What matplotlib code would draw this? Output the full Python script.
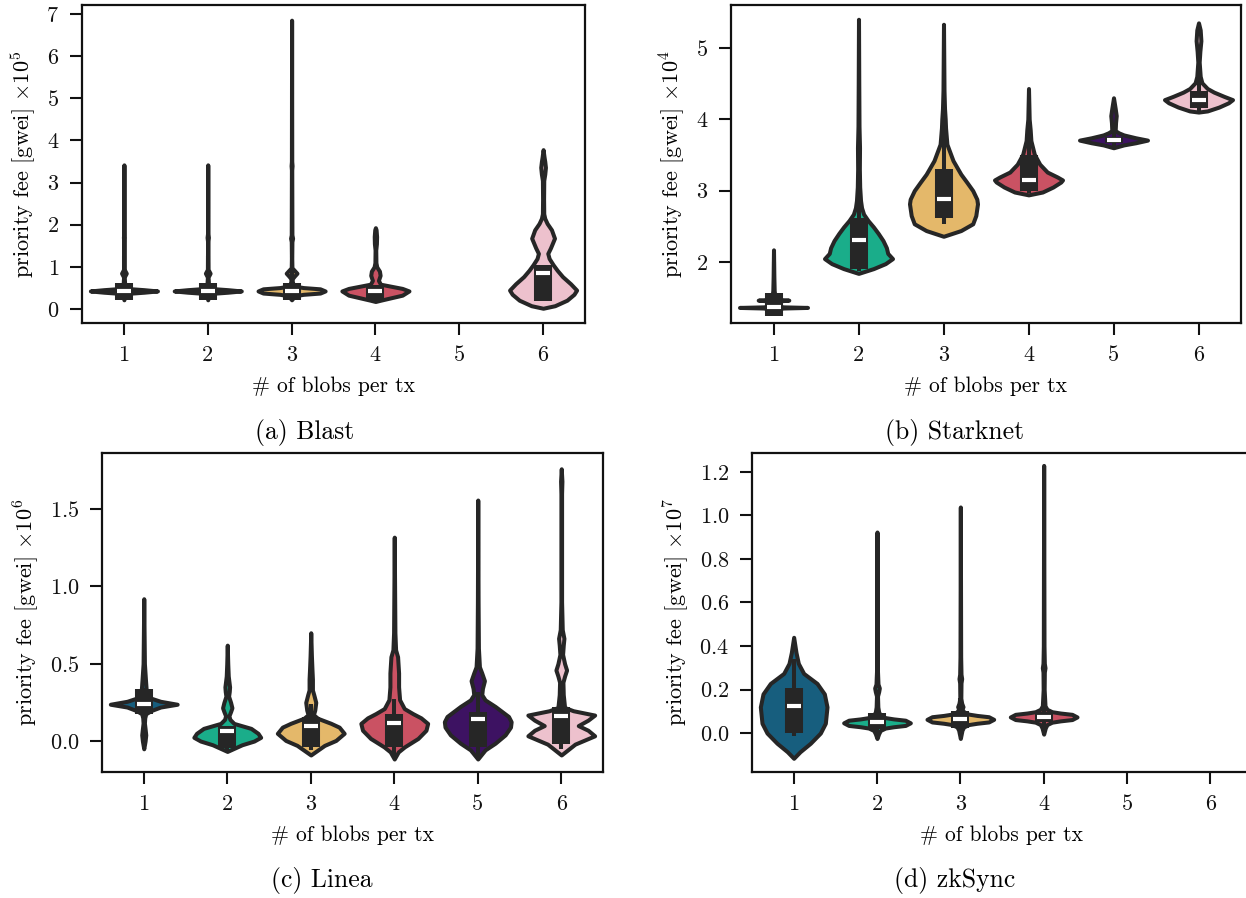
import numpy as np
import matplotlib
matplotlib.use('Agg')
import matplotlib.pyplot as plt

plt.rcParams['font.family'] = 'cmr10'
plt.rcParams['mathtext.fontset'] = 'cm'
plt.rcParams['axes.formatter.use_mathtext'] = True

DARK = '#262626'
COLORS = ['#175e7e', '#1aad8a', '#e4b86a', '#ca5263', '#3d1262', '#edc1cd']
CATEGORIES = ['1', '2', '3', '4', '5', '6']

# ---- (a) Blast, priority fee x 1e5 ----
BLAST_Y = [
    [0.22, 0.30, 0.35, 0.38, 0.40, 0.43, 0.46, 0.48, 0.51, 0.56, 0.62, 0.76, 0.82, 0.85, 0.88, 0.94, 1.6, 1.7, 1.8, 3.42],
    [0.22, 0.30, 0.35, 0.38, 0.40, 0.43, 0.46, 0.48, 0.51, 0.56, 0.62, 0.76, 0.82, 0.85, 0.88, 0.94, 1.6, 1.7, 1.8, 3.42],
    [0.22, 0.26, 0.32, 0.35, 0.38, 0.43, 0.48, 0.51, 0.54, 0.60, 0.66, 0.72, 0.78, 0.85, 0.92, 0.98, 1.2, 1.6, 1.68, 1.76, 3.3, 3.4, 3.5, 6.85],
    [0.18, 0.21, 0.33, 0.43, 0.49, 0.59, 0.68, 0.8, 0.9, 1.0, 1.1, 1.4, 1.55, 1.72, 1.88, 1.93],
    [],
    [0.02, 0.08, 0.21, 0.35, 0.45, 0.6, 0.77, 0.92, 1.05, 1.2, 1.32, 1.45, 1.68, 1.88, 2.03, 2.15, 2.26, 2.6, 3.05, 3.2, 3.36, 3.5, 3.6, 3.78],
]
BLAST_W = [
    [0, 0.02, 0.06, 0.25, 0.6, 1.0, 0.6, 0.25, 0.06, 0.03, 0.02, 0.01, 0.05, 0.07, 0.05, 0.01, 0.005, 0.015, 0.005, 0],
    [0, 0.02, 0.06, 0.25, 0.6, 1.0, 0.6, 0.25, 0.06, 0.03, 0.02, 0.01, 0.05, 0.07, 0.05, 0.01, 0.005, 0.02, 0.005, 0],
    [0, 0.04, 0.12, 0.35, 0.85, 1.0, 0.85, 0.35, 0.12, 0.04, 0.02, 0.02, 0.08, 0.16, 0.08, 0.01, 0.005, 0.01, 0.03, 0.01, 0.005, 0.015, 0.005, 0],
    [0, 0.15, 0.8, 1.0, 0.8, 0.15, 0.09, 0.14, 0.12, 0.04, 0.015, 0.01, 0.03, 0.035, 0.02, 0],
    [],
    [0, 0.35, 0.71, 0.92, 1.0, 0.82, 0.58, 0.42, 0.3, 0.18, 0.14, 0.22, 0.34, 0.25, 0.12, 0.05, 0.02, 0.015, 0.02, 0.05, 0.07, 0.05, 0.03, 0],
]
# q1, median, q3, lower whisker, upper whisker
BLAST_BOX = [
    (0.21, 0.43, 0.62, 0.21, 1.25),
    (0.21, 0.43, 0.62, 0.21, 1.25),
    (0.21, 0.43, 0.62, 0.21, 1.25),
    (0.20, 0.43, 0.57, 0.20, 0.57),
    None,
    (0.20, 0.85, 1.04, 0.20, 1.04),
]

# ---- (b) Starknet, priority fee x 1e4 ----
STARKNET_Y = [
    [1.30, 1.32, 1.343, 1.355, 1.363, 1.371, 1.383, 1.40, 1.43, 1.445, 1.458, 1.465, 1.472, 1.485, 1.52, 1.6, 1.8, 2.17],
    [1.84, 1.907, 1.977, 2.047, 2.12, 2.2, 2.3, 2.4, 2.49, 2.58, 2.67, 2.76, 2.86, 3.05, 3.3, 3.6, 3.9, 4.5, 5.40],
    [2.36, 2.44, 2.535, 2.65, 2.814, 2.88, 3.0, 3.12, 3.23, 3.42, 3.65, 3.88, 4.0, 4.15, 4.4, 5.33],
    [2.94, 2.98, 3.05, 3.12, 3.149, 3.19, 3.26, 3.37, 3.51, 3.70, 3.85, 4.0, 4.43],
    [3.60, 3.64, 3.67, 3.707, 3.74, 3.78, 3.81, 3.84, 3.95, 4.05, 4.15, 4.30],
    [4.10, 4.116, 4.17, 4.23, 4.274, 4.32, 4.38, 4.43, 4.51, 4.60, 4.8, 4.95, 5.1, 5.25, 5.35],
]
STARKNET_W = [
    [0, 0.04, 0.1, 0.3, 1.0, 0.3, 0.1, 0.05, 0.05, 0.15, 0.25, 0.45, 0.25, 0.1, 0.04, 0.02, 0.01, 0],
    [0, 0.44, 0.79, 1.0, 0.86, 0.82, 0.72, 0.58, 0.44, 0.28, 0.15, 0.09, 0.06, 0.035, 0.025, 0.03, 0.015, 0.008, 0],
    [0, 0.51, 0.86, 0.95, 1.0, 0.98, 0.86, 0.68, 0.51, 0.28, 0.10, 0.06, 0.05, 0.03, 0.015, 0],
    [0, 0.41, 0.72, 0.95, 1.0, 0.85, 0.55, 0.33, 0.17, 0.07, 0.05, 0.02, 0],
    [0, 0.3, 0.65, 1.0, 0.65, 0.3, 0.15, 0.05, 0.06, 0.08, 0.05, 0],
    [0, 0.26, 0.6, 0.88, 1.0, 0.75, 0.45, 0.26, 0.1, 0.05, 0.02, 0.04, 0.07, 0.05, 0],
]
STARKNET_BOX = [
    (1.25, 1.372, 1.572, 1.25, 2.0),
    (1.907, 2.312, 2.619, 1.87, 3.7),
    (2.62, 2.88, 3.30, 2.53, 3.9),
    (3.00, 3.149, 3.50, 2.96, 3.9),
    (3.66, 3.707, 3.75, 3.63, 3.82),
    (4.153, 4.274, 4.395, 4.12, 4.6),
]

# ---- (c) Linea, priority fee x 1e6 ----
LINEA_Y = [
    [-0.05, 0.0, 0.04, 0.08, 0.116, 0.15, 0.176, 0.197, 0.22, 0.238, 0.257, 0.277, 0.30, 0.34, 0.4, 0.5, 0.7, 0.92],
    [-0.067, -0.024, 0.0, 0.024, 0.05, 0.082, 0.114, 0.14, 0.163, 0.19, 0.215, 0.25, 0.29, 0.32, 0.35, 0.42, 0.5, 0.62],
    [-0.09, -0.028, 0.004, 0.05, 0.09, 0.115, 0.147, 0.17, 0.2, 0.25, 0.3, 0.33, 0.4, 0.47, 0.55, 0.70],
    [-0.116, -0.07, -0.037, 0.017, 0.07, 0.114, 0.15, 0.177, 0.21, 0.267, 0.35, 0.44, 0.545, 0.59, 0.7, 1.0, 1.318],
    [-0.116, -0.057, -0.014, 0.04, 0.09, 0.125, 0.159, 0.224, 0.266, 0.30, 0.34, 0.39, 0.44, 0.48, 0.6, 0.9, 1.558],
    [-0.09, -0.02, 0.034, 0.07, 0.10, 0.135, 0.168, 0.196, 0.217, 0.3, 0.38, 0.42, 0.459, 0.5, 0.56, 0.62, 0.664, 0.72, 0.9, 1.6, 1.68, 1.76],
]
LINEA_W = [
    [0, 0.04, 0.06, 0.04, 0.02, 0.03, 0.06, 0.22, 0.5, 1.0, 0.5, 0.22, 0.1, 0.07, 0.05, 0.02, 0.01, 0],
    [0, 0.44, 0.8, 1.0, 0.92, 0.71, 0.2, 0.08, 0.05, 0.1, 0.14, 0.1, 0.04, 0.06, 0.07, 0.03, 0.015, 0],
    [0, 0.41, 0.75, 1.0, 0.85, 0.6, 0.21, 0.08, 0.12, 0.15, 0.09, 0.05, 0.05, 0.035, 0.02, 0],
    [0, 0.12, 0.31, 0.71, 0.95, 1.0, 0.8, 0.56, 0.3, 0.16, 0.13, 0.13, 0.1, 0.04, 0.02, 0.01, 0],
    [0, 0.22, 0.52, 0.82, 0.98, 1.0, 0.92, 0.52, 0.22, 0.12, 0.14, 0.2, 0.12, 0.05, 0.02, 0.01, 0],
    [0, 0.41, 1.0, 0.8, 0.51, 0.8, 1.0, 0.36, 0.1, 0.06, 0.05, 0.1, 0.16, 0.1, 0.04, 0.06, 0.08, 0.03, 0.01, 0.01, 0.02, 0],
]
LINEA_BOX = [
    (0.176, 0.238, 0.335, 0.12, 0.34),
    (-0.045, 0.067, 0.10, -0.06, 0.10),
    (-0.037, 0.10, 0.157, -0.06, 0.24),
    (-0.037, 0.114, 0.177, -0.10, 0.27),
    (-0.037, 0.14, 0.19, -0.10, 0.32),
    (-0.02, 0.16, 0.22, -0.05, 0.37),
]

# ---- (d) zkSync, priority fee x 1e7 ----
ZKSYNC_Y = [
    [-0.116, -0.086, -0.047, 0.0, 0.045, 0.12, 0.18, 0.228, 0.274, 0.32, 0.37, 0.44],
    [-0.025, -0.003, 0.012, 0.023, 0.029, 0.035, 0.047, 0.059, 0.065, 0.071, 0.082, 0.097, 0.12, 0.17, 0.19, 0.207, 0.225, 0.3, 0.924],
    [-0.025, 0.013, 0.028, 0.039, 0.045, 0.051, 0.063, 0.075, 0.081, 0.087, 0.098, 0.11, 0.121, 0.137, 0.16, 0.23, 0.25, 0.27, 0.35, 1.039],
    [-0.005, 0.024, 0.039, 0.050, 0.056, 0.062, 0.074, 0.086, 0.092, 0.098, 0.109, 0.125, 0.2, 0.28, 0.30, 0.32, 0.4, 1.23],
    [],
    [],
]
ZKSYNC_W = [
    [0, 0.19, 0.5, 0.8, 0.95, 1.0, 0.92, 0.70, 0.30, 0.14, 0.07, 0],
    [0, 0.05, 0.1, 0.25, 0.5, 0.85, 1.0, 0.85, 0.5, 0.25, 0.1, 0.05, 0.025, 0.015, 0.05, 0.07, 0.03, 0.01, 0],
    [0, 0.05, 0.1, 0.25, 0.5, 0.85, 1.0, 0.85, 0.5, 0.25, 0.1, 0.05, 0.08, 0.04, 0.015, 0.02, 0.04, 0.02, 0.01, 0],
    [0, 0.05, 0.1, 0.25, 0.5, 0.85, 1.0, 0.85, 0.5, 0.25, 0.1, 0.04, 0.015, 0.02, 0.04, 0.02, 0.01, 0],
    [],
    [],
]
ZKSYNC_BOX = [
    (0.0, 0.123, 0.206, -0.012, 0.34),
    (0.018, 0.052, 0.092, -0.015, 0.15),
    (0.021, 0.064, 0.103, -0.01, 0.16),
    (0.052, 0.075, 0.098, 0.02, 0.13),
    None,
    None,
]

W, H = 1246, 898
fig = plt.figure(figsize=(W / 100, H / 100), dpi=100)


def draw_panel(rect, ys, ws, boxes, exp, ylim, yticks, caption, cap_xy):
    ax = fig.add_axes([rect[0] / W, 1 - rect[1] / H, rect[2] / W, rect[3] / H])
    for i in range(len(CATEGORIES)):
        if not ys[i]:
            continue
        y = np.array(ys[i])
        half = np.array(ws[i]) * 0.4
        ax.fill_betweenx(y, i - half, i + half, facecolor=COLORS[i], edgecolor=DARK,
                         linewidth=2.9, joinstyle='round', zorder=2)
        q1, med, q3, lo, hi = boxes[i]
        ax.plot([i, i], [lo, hi], color=DARK, lw=2.9, solid_capstyle='butt', zorder=3)
        ax.plot([i, i], [q1, q3], color=DARK, lw=13, solid_capstyle='butt', zorder=3)
        ax.plot([i], [med], marker='_', color='white', ms=10, mew=3, zorder=4)

    ax.set_xlim(-0.5, 5.5)
    ax.set_ylim(*ylim)
    ax.set_xticks(range(len(CATEGORIES)))
    ax.set_xticklabels(CATEGORIES)
    ax.set_yticks(yticks)
    for s in ax.spines.values():
        s.set_linewidth(1.6)
        s.set_color('#111111')
    ax.tick_params(length=8.5, width=1.5, pad=8, labelsize=16, colors='#111111')
    ax.set_xlabel('# of blobs per tx', fontsize=15.5, labelpad=8)
    ax.set_ylabel('priority fee [gwei] $\\times10^{%d}$' % exp, fontsize=16, labelpad=6)
    fig.text(cap_xy[0] / W, 1 - cap_xy[1] / H, caption, ha='center', va='center', fontsize=18.5)
    return ax


draw_panel((82, 323, 503, 318), BLAST_Y, BLAST_W, BLAST_BOX, 5,
           (-0.33, 7.21), range(0, 8), '(a) Blast', (305, 432))
draw_panel((731, 323, 510, 318), STARKNET_Y, STARKNET_W, STARKNET_BOX, 4,
           (1.145, 5.60), [2, 3, 4, 5], '(b) Starknet', (955, 432))
draw_panel((102, 772, 501, 319), LINEA_Y, LINEA_W, LINEA_BOX, 6,
           (-0.2, 1.862), [0.0, 0.5, 1.0, 1.5], '(c) Linea', (322, 880))
draw_panel((752, 772, 500, 319), ZKSYNC_Y, ZKSYNC_W, ZKSYNC_BOX, 7,
           (-0.179, 1.287), [0.0, 0.2, 0.4, 0.6, 0.8, 1.0, 1.2], '(d) zkSync', (955, 880))

fig.savefig('out.png', dpi=100)
